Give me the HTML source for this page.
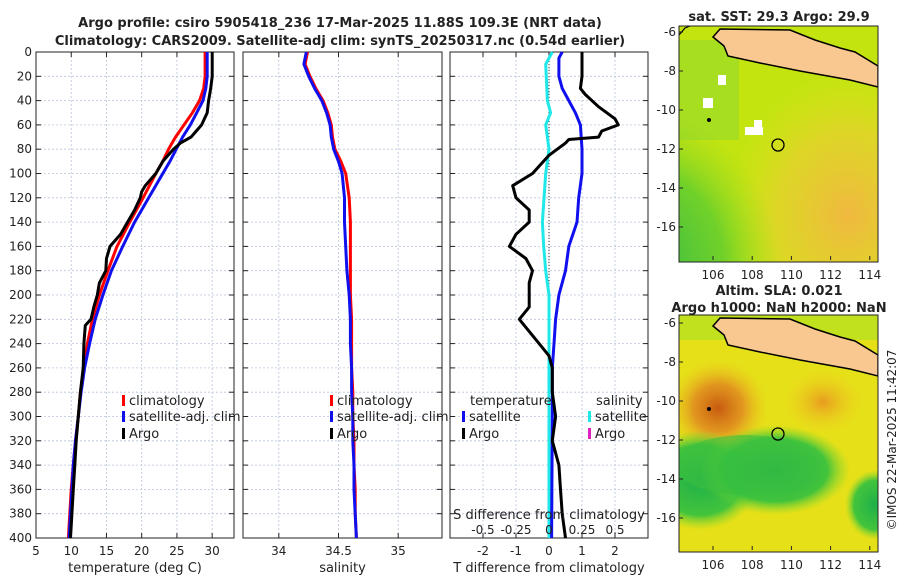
<!DOCTYPE html>
<html><head><meta charset="utf-8"><style>
body{margin:0;background:#fff}
svg text{font-family:"DejaVu Sans","Liberation Sans",sans-serif;fill:#222}
</style></head><body>
<svg id="c" width="900" height="580" viewBox="0 0 900 580" xmlns="http://www.w3.org/2000/svg">
<defs>
<radialGradient id="g1" cx="0.1" cy="0.9" r="0.7"><stop offset="0" stop-color="#2fb84a"/><stop offset="0.6" stop-color="#5ccc30" stop-opacity="0.8"/><stop offset="1" stop-color="#9cdc20" stop-opacity="0"/></radialGradient>
<radialGradient id="g2" cx="0.85" cy="0.8" r="0.6"><stop offset="0" stop-color="#f0b840"/><stop offset="0.6" stop-color="#e8d030" stop-opacity="0.7"/><stop offset="1" stop-color="#e0e020" stop-opacity="0"/></radialGradient>
<radialGradient id="g3" cx="0.5" cy="0.5" r="0.5"><stop offset="0" stop-color="#c85a10"/><stop offset="0.5" stop-color="#e08a20" stop-opacity="0.85"/><stop offset="1" stop-color="#f0c020" stop-opacity="0"/></radialGradient>
<radialGradient id="g4" cx="0.5" cy="0.5" r="0.5"><stop offset="0" stop-color="#e89a20"/><stop offset="1" stop-color="#f0d020" stop-opacity="0"/></radialGradient>
<radialGradient id="g5" cx="0.5" cy="0.5" r="0.5"><stop offset="0" stop-color="#1fb04a"/><stop offset="0.7" stop-color="#30c040" stop-opacity="0.9"/><stop offset="1" stop-color="#80d830" stop-opacity="0"/></radialGradient>
<clipPath id="cm1"><rect x="679" y="26" width="199" height="236"/></clipPath>
<clipPath id="cm2"><rect x="679" y="315" width="199" height="237"/></clipPath>
</defs>
<text x="340" y="27" text-anchor="middle" font-size="13" font-weight="bold">Argo profile: csiro 5905418_236 17-Mar-2025 11.88S 109.3E (NRT data)</text>
<text x="340" y="45" text-anchor="middle" font-size="13" font-weight="bold">Climatology: CARS2009. Satellite-adj clim: synTS_20250317.nc (0.54d earlier)</text>
<g id="plots"></g>
<g>
<text x="779" y="21" text-anchor="middle" font-size="13" font-weight="bold">sat. SST: 29.3 Argo: 29.9</text>
<g clip-path="url(#cm1)">
<rect x="679" y="26" width="199" height="236" fill="#c4e410"/>
<rect x="679" y="26" width="199" height="236" fill="url(#g2)"/>
<rect x="620" y="60" width="200" height="230" fill="url(#g1)"/>
<rect x="679" y="40" width="60" height="100" fill="#8cd830" opacity="0.5"/>
<rect x="718" y="75" width="8" height="10" fill="#fff"/>
<rect x="703" y="98" width="10" height="10" fill="#fff"/>
<rect x="745" y="127" width="18" height="8" fill="#fff"/>
<rect x="754" y="120" width="8" height="8" fill="#fff"/>
<polygon fill="#f8c890" stroke="#000" stroke-width="1.5" points="713,37 720,29 790,30 815,40 840,48 855,52 878,66 878,87 850,80 800,71 760,63 728,56 724,46"/>
<polyline points="679,35 685,28 690,26" fill="none" stroke="#000" stroke-width="1.2"/>
<circle cx="778" cy="145" r="6" fill="none" stroke="#000" stroke-width="1.3"/>
<circle cx="709" cy="120" r="2" fill="#000"/>
</g>
<rect x="679" y="26" width="199" height="236" fill="none" stroke="#222"/>
</g>
<g>
<text x="779" y="295" text-anchor="middle" font-size="13" font-weight="bold">Altim. SLA: 0.021</text>
<text x="779" y="312" text-anchor="middle" font-size="13" font-weight="bold">Argo h1000: NaN h2000: NaN</text>
<g clip-path="url(#cm2)">
<rect x="679" y="315" width="199" height="237" fill="#e6e018"/>
<rect x="679" y="315" width="199" height="25" fill="#b0e020" opacity="0.7"/>
<ellipse cx="718" cy="408" rx="50" ry="48" fill="url(#g3)"/>
<ellipse cx="823" cy="402" rx="40" ry="32" fill="url(#g4)"/>
<ellipse cx="700" cy="480" rx="60" ry="50" fill="url(#g5)"/>
<ellipse cx="775" cy="470" rx="75" ry="45" fill="url(#g5)"/>
<ellipse cx="745" cy="465" rx="70" ry="30" fill="#3cc040" opacity="0.6"/>
<ellipse cx="875" cy="505" rx="30" ry="35" fill="url(#g5)"/>
<polygon fill="#f8c890" stroke="#000" stroke-width="1.5" points="713,326 720,318 790,319 815,329 840,337 855,341 878,355 878,376 850,369 800,360 760,352 728,345 724,335"/>
<circle cx="778" cy="434" r="6" fill="none" stroke="#000" stroke-width="1.3"/>
<circle cx="709" cy="409" r="2" fill="#000"/>
</g>
<rect x="679" y="315" width="199" height="237" fill="none" stroke="#222"/>
</g>
<g id="mapticks"></g>
<text transform="translate(896,440) rotate(-90)" text-anchor="middle" font-size="12">©IMOS 22-Mar-2025 11:42:07</text>
</svg>
<script>
const depths=[0,10,20,30,40,50,60,70,75,80,90,100,110,115,120,130,140,150,160,170,180,190,200,210,220,225,240,260,280,300,320,340,360,380,400];
const argoTemp=[30,30,30,29.8,29.5,29.3,28.5,27,25.5,24.5,23,22,20.5,20,19.8,19,18,17,15.5,15,14.9,14,13.7,13.2,12.8,12,11.8,11.7,11.3,11,10.7,10.5,10.3,10.1,9.9];
const climDepths=[0,20,30,40,50,60,70,80,90,100,120,140,160,180,200,220,240,260,280,300,320,340,360,380,400];
const climTemp=[29,29,28.8,28.2,27.2,26,24.8,23.8,23,22,20.2,18.3,16.5,15.2,14,13,12.3,11.8,11.3,11,10.6,10.3,10,9.8,9.6];
const satTemp=[29.3,29.3,29.1,28.7,27.8,26.9,25.8,24.9,24,23,21,19,17.3,15.7,14.5,13.4,12.6,11.9,11.4,11,10.6,10.3,10.1,9.9,9.7];
const salDepths=[0,10,20,30,40,50,60,70,80,90,100,120,140,160,180,200,220,240,260,280,300,320,340,360,380,400];
const climSal=[34.24,34.22,34.26,34.31,34.37,34.41,34.44,34.45,34.47,34.52,34.56,34.59,34.60,34.60,34.60,34.60,34.61,34.61,34.61,34.62,34.62,34.63,34.63,34.64,34.64,34.65];
const satSal=[34.23,34.21,34.25,34.3,34.36,34.4,34.43,34.44,34.46,34.5,34.53,34.55,34.55,34.56,34.57,34.59,34.6,34.6,34.61,34.61,34.62,34.62,34.63,34.63,34.64,34.65];
const diffDepths=[0,20,30,35,45,55,60,65,70,72,75,85,100,110,120,130,140,150,160,170,180,190,200,210,220,230,240,250,260,270,280,300,320,340,360,380,400];
const argoTdiff=[1.0,1.0,0.95,1.1,1.5,2.0,2.1,1.6,1.5,0.6,0.5,0.0,-0.5,-1.1,-1.0,-0.6,-0.6,-1.0,-1.2,-0.7,-0.5,-0.6,-0.6,-0.6,-0.9,-0.6,-0.3,0.0,0.1,0.1,0.1,0.2,0.1,0.3,0.35,0.4,0.5];
const satTdiffDepths=[0,5,20,30,40,50,60,80,100,120,140,160,180,200,220,240,260,300,400];
const satTdiff=[0.4,0.3,0.3,0.4,0.6,0.8,0.95,1.0,1.0,0.9,0.85,0.6,0.5,0.3,0.2,0.15,0.1,0.1,0.08];
const salDiffDepths=[0,10,40,50,60,80,100,140,160,180,200,250,300,400];
const satSdiff=[0.025,-0.025,-0.012,0.012,-0.025,0,-0.025,-0.05,-0.04,-0.025,0,0,0,0];
const depthTicks=[0,20,40,60,80,100,120,140,160,180,200,220,240,260,280,300,320,340,360,380,400];
const tempTicks=[5,10,15,20,25,30];
const salTicks=[34,34.5,35];
const tdiffTicks=[-2,-1,0,1,2];
const sdiffTicks=[-0.5,-0.25,0,0.25,0.5];
const lonTicks=[106,108,110,112,114];
const latTicks=[-6,-8,-10,-12,-14,-16];

const NS='http://www.w3.org/2000/svg';
const root=document.getElementById('plots');
function mk(tag,attrs,parent){const e=document.createElementNS(NS,tag);for(const k in attrs)e.setAttribute(k,attrs[k]);(parent||root).appendChild(e);return e;}
const Y0=52,Y1=538;
function yD(d){return Y0+(d/400)*(Y1-Y0);}
function axis(x0,x1,v0,v1){return v=>x0+(v-v0)/(v1-v0)*(x1-x0);}
const panels=[
 {name:'temperature-panel',x0:36,x1:234,v0:5,v1:33.1,ticks:tempTicks,title:'temperature (deg C)',ylab:true},
 {name:'salinity-panel',x0:243,x1:442,v0:33.7,v1:35.367,ticks:salTicks,title:'salinity'},
 {name:'difference-panel',x0:450,x1:648,v0:-3,v1:3,ticks:tdiffTicks,title:'T difference from climatology'}
];
panels.forEach(p=>{
 const g=mk('g',{});
 
 
 p.g=g;p.fx=axis(p.x0,p.x1,p.v0,p.v1);
 depthTicks.forEach(d=>{
  const l=mk('line',{x1:p.x0,x2:p.x1,y1:yD(d),y2:yD(d),stroke:'#b8c4dc','stroke-width':0.8,'stroke-dasharray':'2,2'},g);
  
  
  mk('line',{x1:p.x0,x2:p.x0+5,y1:yD(d),y2:yD(d),stroke:'#222'},g);
  mk('line',{x1:p.x1,x2:p.x1-5,y1:yD(d),y2:yD(d),stroke:'#222'},g);
  if(p.ylab){const t=mk('text',{x:p.x0-4,y:yD(d)+4,'text-anchor':'end','font-size':12},g);t.textContent=d;
   }
 });
 p.ticks.forEach(v=>{
  const x=p.fx(v);
  const l=mk('line',{x1:x,x2:x,y1:Y0,y2:Y1,stroke:'#b8c4dc','stroke-width':0.8,'stroke-dasharray':'2,2'},g);
  
  
  mk('line',{x1:x,x2:x,y1:Y1,y2:Y1-5,stroke:'#222'},g);
  mk('line',{x1:x,x2:x,y1:Y0,y2:Y0+5,stroke:'#222'},g);
  const t=mk('text',{x:x,y:Y1+17,'text-anchor':'middle','font-size':12},g);t.textContent=v;
  
 });
 const at=mk('text',{x:(p.x0+p.x1)/2,y:572,'text-anchor':'middle','font-size':13},g);at.textContent=p.title;
 
 const fr=mk('rect',{x:p.x0,y:Y0,width:p.x1-p.x0,height:Y1-Y0,fill:'none',stroke:'#222'},g);
 
});
function line(p,vals,ds,color,w,name){
 const pts=vals.map((v,i)=>p.fx(v).toFixed(1)+','+yD(ds[i]).toFixed(1)).join(' ');
 const e=mk('polyline',{points:pts,fill:'none',stroke:color,'stroke-width':w,'stroke-linejoin':'round'},p.g);
 
 
}
const P=panels;
line(P[0],climTemp,climDepths,'#f00',3,'climatology-temperature-line');
line(P[0],satTemp,climDepths,'#1010ee',3,'satellite-temperature-line');
line(P[0],argoTemp,depths,'#000',3,'argo-temperature-line');
line(P[1],climSal,salDepths,'#f00',3,'climatology-salinity-line');
line(P[1],satSal,salDepths,'#1010ee',3,'satellite-salinity-line');
const z=mk('line',{x1:P[2].fx(0),x2:P[2].fx(0),y1:Y0,y2:Y1,stroke:'#333','stroke-dasharray':'1,2'},P[2].g);

line(P[2],satSdiff.map(v=>v*4),salDiffDepths,'#20e8e8',3,'satellite-salinity-difference-line');
line(P[2],satTdiff,satTdiffDepths,'#1010ee',3,'satellite-temperature-difference-line');
line(P[2],argoTdiff,diffDepths,'#000',3,'argo-temperature-difference-line');
const st=mk('text',{x:549,y:519,'text-anchor':'middle','font-size':13},P[2].g);st.textContent='S difference from climatology';

sdiffTicks.forEach(v=>{const t=mk('text',{x:P[2].fx(v*4),y:534,'text-anchor':'middle','font-size':12},P[2].g);t.textContent=v;
 });
function leg(x,y,color,label,g){
 const r=mk('rect',{x:x,y:y-9,width:3,height:11,fill:color},g);
 
 const t=mk('text',{x:x+7,y:y+1,'font-size':13},g);t.textContent=label;
 
}
[[P[0],122],[P[1],330]].forEach(([p,x])=>{
 leg(x,404,'#f00','climatology',p.g);leg(x,420,'#1010ee','satellite-adj. clim',p.g);leg(x,437,'#000','Argo',p.g);
});
const t1=mk('text',{x:470,y:405,'font-size':13},P[2].g);t1.textContent='temperature';

const t2=mk('text',{x:596,y:405,'font-size':13},P[2].g);t2.textContent='salinity';

leg(462,420,'#1010ee','satellite',P[2].g);leg(462,437,'#000','Argo',P[2].g);
leg(588,420,'#20e8e8','satellite',P[2].g);leg(588,437,'#e020c0','Argo',P[2].g);
const mt=document.getElementById('mapticks');
[[26,32,275],[315,323,565]].forEach(([top,y6,ylab])=>{
 latTicks.forEach(v=>{const y=y6+(-6-v)*19.5;
  mk('line',{x1:679,x2:683,y1:y,y2:y,stroke:'#222'},mt);
  const t=mk('text',{x:676,y:y+4,'text-anchor':'end','font-size':12},mt);t.textContent=v;
  });
 lonTicks.forEach(v=>{const x=713+(v-106)*19.6;
  mk('line',{x1:x,x2:x,y1:ylab-15,y2:ylab-19,stroke:'#222'},mt);
  const t=mk('text',{x:x,y:ylab+4,'text-anchor':'middle','font-size':12},mt);t.textContent=v;
  });
});
</script>
</body></html>
